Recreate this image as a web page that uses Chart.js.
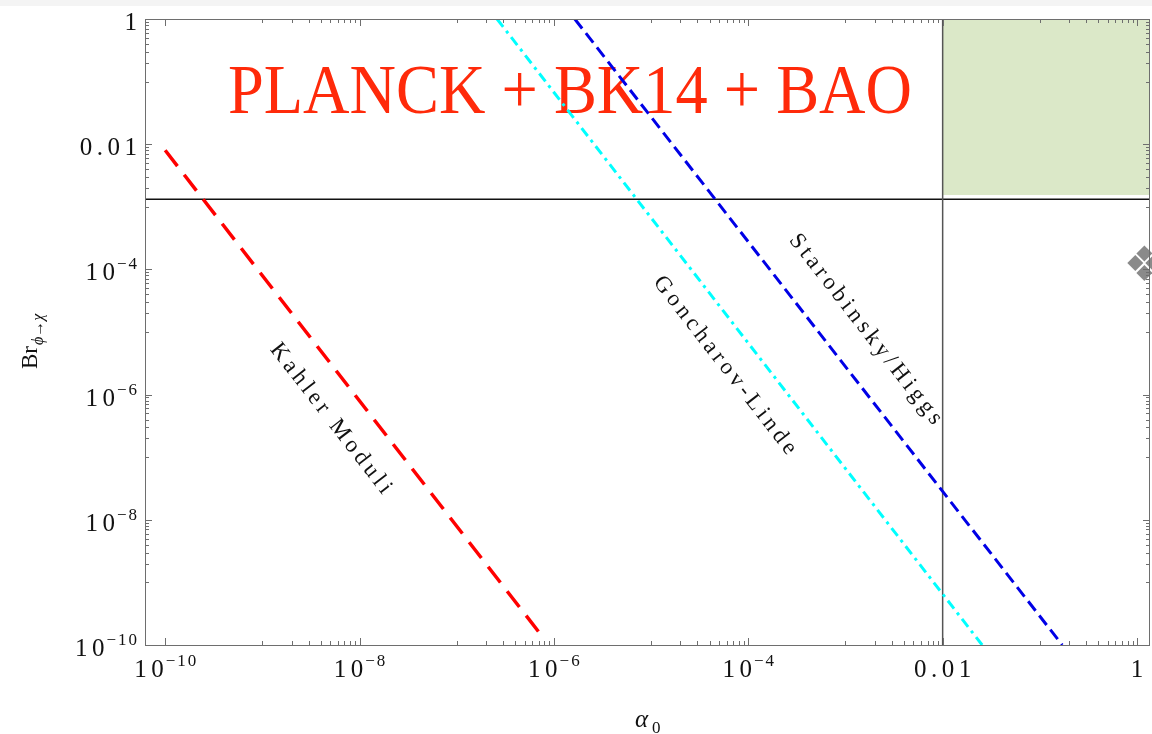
<!DOCTYPE html>
<html lang="en">
<head>
<meta charset="UTF-8">
<script src="https://cdn.jsdelivr.net/npm/chart.js"></script>
<style>
    html, body { margin: 0; padding: 0; background: #fff; }
    .wrap { width: 1152px; height: 734px; }
    .fontprobe { position: absolute; left: -9999px; top: 0; font-family: "Liberation Serif"; }
</style>
</head>
<body>
<div class="fontprobe">PLANCK 0.01 <i>α ϕ→χ</i></div>
<div class="wrap"><canvas id="chart" width="1152" height="734"></canvas></div>
<script>
// axis ranges
const alphaMin = 6.2e-11, alphaMax = 1.36;
const brMin = 1e-10, brMax = 1;

// ticks
const xTickVals = [1e-10, 1e-8, 1e-6, 1e-4, 1e-2, 1];
const xTickLabels = ['10^-10', '10^-8', '10^-6', '10^-4', '0.01', '1'];
const yTickVals = [1e-10, 1e-8, 1e-6, 1e-4, 1e-2, 1];
const yTickLabels = ['10^-10', '10^-8', '10^-6', '10^-4', '0.01', '1'];

// model lines (alpha_0, Br)
const kahlerAlpha = [1e-10, 7.5e-7];
const kahlerBr = [8e-3, 1.4e-10];
const gonchAlpha = [2.6e-7, 2.55e-2];
const gonchBr = [1, 1e-10];
const staroAlpha = [1.64e-6, 0.17];
const staroBr = [1, 1e-10];

// limits
const brCut = 1.32e-3;
const alphaCut = 0.01;
const greenBr = 1.55e-3;

// grey diamonds near alpha ~ 1
const diamondAlpha = [0.96, 1.19, 1.19, 1.47];
const diamondBr = [1.26e-4, 1.8e-4, 8.8e-5, 1.26e-4];

const curveNames = ['Kahler Moduli', 'Goncharov-Linde', 'Starobinsky/Higgs'];
const nameAlpha = [5.2e-9, 5.9e-5, 1.66e-3];
const nameBr = [3.9e-7, 2.76e-6, 1.04e-5];

const titleText = 'PLANCK + BK14 + BAO';
const SERIF = '"Liberation Serif", "Times New Roman", "DejaVu Serif", serif';

const pts = (xs, ys) => xs.map((x, i) => ({ x: x, y: ys[i] }));

function drawPowLabel(ctx, text, x, y, align) {
    const parts = text.split('^');
    const base = parts[0];
    const exp = parts[1] ? parts[1].replace('-', '\u2212') : '';
    ctx.font = '25px ' + SERIF;
    ctx.letterSpacing = '4.5px';
    const wb = ctx.measureText(base).width - 4.5;
    let we = 0;
    if (exp) {
        ctx.font = '17px ' + SERIF;
        ctx.letterSpacing = '2px';
        we = ctx.measureText(exp).width;
    }
    const total = wb + we;
    let x0 = x;
    if (align === 'right') x0 = x - total;
    if (align === 'center') x0 = x - total / 2;
    ctx.textAlign = 'left';
    ctx.textBaseline = 'alphabetic';
    ctx.font = '25px ' + SERIF;
    ctx.letterSpacing = '4.5px';
    ctx.fillText(base, x0, y);
    if (exp) {
        ctx.font = '17px ' + SERIF;
        ctx.letterSpacing = '2px';
        ctx.fillText(exp, x0 + wb + 2, y - 11);
    }
    ctx.letterSpacing = '0px';
}

const framePlugin = {
    id: 'frame',
    beforeDatasetsDraw(chart) {
        const ctx = chart.ctx;
        ctx.save();
        ctx.fillStyle = '#f4f4f4';
        ctx.fillRect(0, 0, chart.width, 6);

        ctx.font = '69px ' + SERIF;
        ctx.fillStyle = '#ff2a0a';
        ctx.textAlign = 'center';
        ctx.textBaseline = 'alphabetic';
        const w = ctx.measureText(titleText).width;
        ctx.translate(570, 113);
        ctx.scale(684 / w, 1);
        ctx.fillText(titleText, 0, 0);
        ctx.restore();
    },
    afterDatasetsDraw(chart) {
        const ctx = chart.ctx;
        const a = chart.chartArea;
        const xs = chart.scales.x, ys = chart.scales.y;
        ctx.save();

        // frame
        ctx.strokeStyle = '#6e6e6e';
        ctx.lineWidth = 1;
        ctx.strokeRect(a.left + 0.5, a.top + 0.5, a.right - a.left - 1, a.bottom - a.top);

        // ticks, minor ones fill the decade below each major
        const minors = [];
        xTickVals.slice(1).forEach(m => { for (let k = 1; k <= 9; k++) minors.push(m * k / 10); });
        ctx.beginPath();
        xTickVals.forEach(v => {
            const px = Math.round(xs.getPixelForValue(v)) + 0.5;
            ctx.moveTo(px, a.bottom); ctx.lineTo(px, a.bottom - 7);
            ctx.moveTo(px, a.top); ctx.lineTo(px, a.top + 7);
        });
        minors.forEach(v => {
            const px = Math.round(xs.getPixelForValue(v)) + 0.5;
            ctx.moveTo(px, a.bottom); ctx.lineTo(px, a.bottom - 4);
            ctx.moveTo(px, a.top); ctx.lineTo(px, a.top + 4);
        });
        yTickVals.forEach(v => {
            const py = Math.round(ys.getPixelForValue(v)) + 0.5;
            ctx.moveTo(a.left, py); ctx.lineTo(a.left + 7, py);
            ctx.moveTo(a.right, py); ctx.lineTo(a.right - 7, py);
        });
        const yMinors = [];
        yTickVals.slice(1).forEach(m => { for (let k = 1; k <= 9; k++) yMinors.push(m * k / 10); });
        yMinors.forEach(v => {
            const py = Math.round(ys.getPixelForValue(v)) + 0.5;
            ctx.moveTo(a.left, py); ctx.lineTo(a.left + 4, py);
            ctx.moveTo(a.right, py); ctx.lineTo(a.right - 4, py);
        });
        ctx.stroke();

        // tick labels
        ctx.fillStyle = '#111';
        xTickVals.forEach((v, i) => {
            drawPowLabel(ctx, xTickLabels[i], xs.getPixelForValue(v), 677, 'center');
        });
        yTickVals.forEach((v, i) => {
            drawPowLabel(ctx, yTickLabels[i], 137, ys.getPixelForValue(v) + 11, 'right');
        });

        // names along the curves
        ctx.font = '23px ' + SERIF;
        ctx.letterSpacing = '4px';
        ctx.textAlign = 'center';
        ctx.textBaseline = 'middle';
        curveNames.forEach((name, i) => {
            const meta = chart.getDatasetMeta(i);
            const p0 = meta.data[0], p1 = meta.data[1];
            const ang = Math.atan2(p1.y - p0.y, p1.x - p0.x);
            ctx.save();
            ctx.translate(xs.getPixelForValue(nameAlpha[i]), ys.getPixelForValue(nameBr[i]));
            ctx.rotate(ang);
            ctx.fillText(name, 0, 0);
            ctx.restore();
        });
        ctx.letterSpacing = '0px';

        // axis titles
        ctx.textAlign = 'left';
        ctx.textBaseline = 'alphabetic';
        ctx.font = 'italic 25px ' + SERIF;
        ctx.fillText('\u03b1', 635, 727);
        ctx.font = '17px ' + SERIF;
        ctx.fillText('0', 652, 733);

        ctx.save();
        ctx.translate(37, 369);
        ctx.rotate(-Math.PI / 2);
        ctx.font = '23px ' + SERIF;
        ctx.fillText('Br', 0, 0);
        const wbr = ctx.measureText('Br').width;
        ctx.font = 'italic 16px ' + SERIF;
        ctx.fillText('\u03d5\u2192\u03c7', wbr + 1, 6);
        ctx.restore();

        ctx.restore();
    }
};

function makeChart() {
    new Chart(document.getElementById('chart'), {
        type: 'scatter',
        data: {
            datasets: [
                {
                    label: curveNames[0], data: pts(kahlerAlpha, kahlerBr), showLine: true,
                    borderColor: '#ff0000', borderWidth: 3.5, borderDash: [20, 11], pointRadius: 0, order: 3
                },
                {
                    label: curveNames[1], data: pts(gonchAlpha, gonchBr), showLine: true,
                    borderColor: '#00ffff', borderWidth: 3, borderDash: [10, 5, 3, 5], pointRadius: 0, order: 2
                },
                {
                    label: curveNames[2], data: pts(staroAlpha, staroBr), showLine: true,
                    borderColor: '#0000e6', borderWidth: 3, borderDash: [12, 6], pointRadius: 0, order: 1
                },
                {
                    label: 'Br cut', data: pts([alphaMin, alphaMax], [brCut, brCut]), showLine: true,
                    borderColor: '#111', borderWidth: 1.5, pointRadius: 0, order: 5
                },
                {
                    label: 'alpha cut', data: pts([alphaCut, alphaCut], [brMin, brMax]), showLine: true,
                    borderColor: '#555', borderWidth: 1.5, pointRadius: 0, order: 4
                },
                {
                    label: 'allowed', data: pts([alphaCut, alphaMax], [greenBr, greenBr]), showLine: true,
                    fill: 'end', backgroundColor: '#dbe8c8', borderWidth: 0, pointRadius: 0, order: 9
                },
                {
                    label: 'points', data: pts(diamondAlpha, diamondBr), clip: false,
                    pointStyle: 'rectRot', pointRadius: 8, backgroundColor: '#8a8a8a',
                    borderWidth: 0, order: 0
                }
            ]
        },
        options: {
            responsive: false,
            animation: false,
            layout: { autoPadding: false, padding: { left: 145, top: 19, right: 2, bottom: 89 } },
            scales: {
                x: { type: 'logarithmic', min: alphaMin, max: alphaMax, display: false },
                y: { type: 'logarithmic', min: brMin, max: brMax, display: false }
            },
            plugins: { legend: { display: false }, tooltip: { enabled: false } }
        },
        plugins: [framePlugin]
    });
}

Promise.all([
    document.fonts.load('24px "Liberation Serif"'),
    document.fonts.load('italic 24px "Liberation Serif"')
]).catch(() => {}).then(makeChart);
</script>
</body>
</html>
